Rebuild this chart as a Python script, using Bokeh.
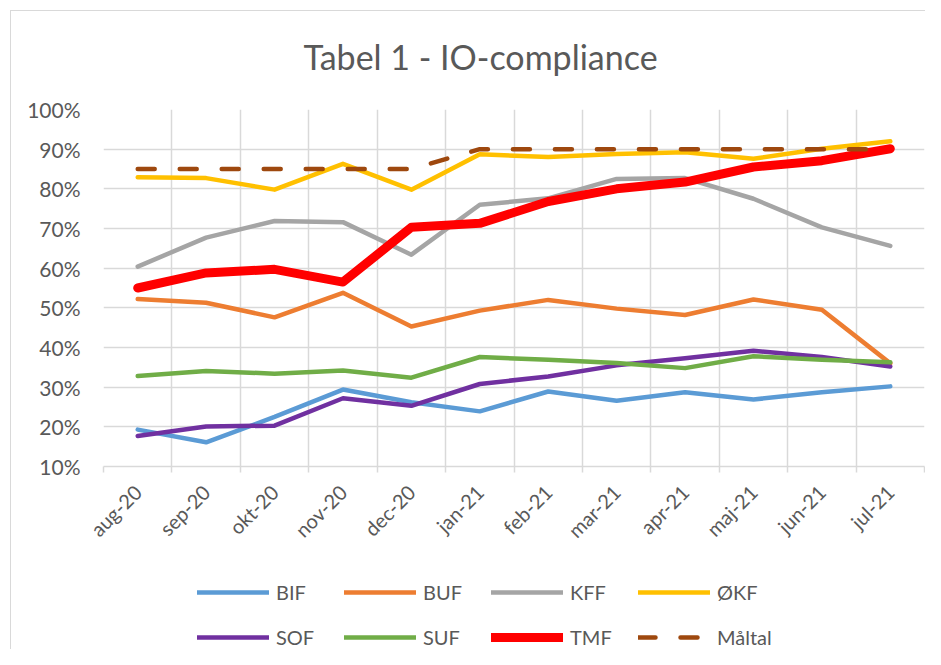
import math
from bokeh.plotting import figure
from bokeh.layouts import column
from bokeh.models import (FixedTicker, Legend, LegendItem, Range1d,
                          PrintfTickFormatter)
from bokeh.embed import file_html
from bokeh.resources import INLINE

months = ["aug-20", "sep-20", "okt-20", "nov-20", "dec-20", "jan-21",
          "feb-21", "mar-21", "apr-21", "maj-21", "jun-21", "jul-21"]
bif = [19.3, 16.1, 22.5, 29.4, 26.2, 23.9, 28.9, 26.6, 28.7, 26.9, 28.7, 30.2]
buf = [52.2, 51.3, 47.6, 53.8, 45.3, 49.3, 52.0, 49.8, 48.2, 52.1, 49.5, 36.0]
kff = [60.4, 67.7, 71.9, 71.6, 63.4, 76.0, 77.6, 82.5, 82.7, 77.5, 70.3, 65.6]
okf = [82.9, 82.7, 79.8, 86.3, 79.8, 88.7, 88.0, 88.8, 89.2, 87.6, 90.1, 92.0]
sof = [17.7, 20.1, 20.3, 27.2, 25.3, 30.8, 32.7, 35.5, 37.3, 39.2, 37.6, 35.2]
suf = [32.8, 34.1, 33.4, 34.2, 32.4, 37.6, 36.9, 36.1, 34.8, 37.8, 36.9, 36.3]
tmf = [55.0, 58.8, 59.7, 56.5, 70.3, 71.3, 76.8, 80.0, 81.7, 85.5, 87.1, 90.1]
maaltal = [85, 85, 85, 85, 85, 90, 90, 90, 90, 90, 90, 90]
y_ticks = [10, 20, 30, 40, 50, 60, 70, 80, 90, 100]

x = list(range(len(months)))
FONT = "Lato"
TXT = "#595959"
GRID = "#D9D9D9"

p = figure(width=925, height=560, output_backend="svg", toolbar_location=None,
           x_range=Range1d(-0.5, len(months) - 0.5), y_range=Range1d(10, 100),
           min_border_left=103, min_border_right=1, min_border_top=109,
           min_border_bottom=94)

p.title.text = "Tabel 1 - IO-compliance"
p.title.align = "left"
p.title.offset = 200
p.title.text_font = FONT
p.title.text_font_size = "34px"
p.title.text_font_style = "normal"
p.title.text_color = TXT
p.title.standoff = 66

p.outline_line_color = None
p.background_fill_color = "white"
p.border_fill_color = None

# y axis
p.yaxis.ticker = FixedTicker(ticks=y_ticks)
p.yaxis.formatter = PrintfTickFormatter(format="%d%%")
p.yaxis.axis_line_color = None
p.yaxis.major_tick_line_color = None
p.yaxis.major_tick_out = 0
p.yaxis.minor_tick_line_color = None
p.yaxis.major_label_text_font = FONT
p.yaxis.major_label_text_font_size = "21px"
p.yaxis.major_label_text_color = TXT
p.yaxis.major_label_standoff = 23

# x axis
p.xaxis.ticker = FixedTicker(ticks=x, minor_ticks=[i - 0.5 for i in range(len(months) + 1)])
p.xaxis.major_label_overrides = {i: m for i, m in enumerate(months)}
p.xaxis.axis_line_color = GRID
p.xaxis.axis_line_width = 1.5
p.xaxis.major_tick_line_color = None
p.xaxis.major_tick_out = 0
p.xaxis.minor_tick_line_color = GRID
p.xaxis.minor_tick_line_width = 1.5
p.xaxis.minor_tick_out = 6
p.xaxis.minor_tick_in = 0
p.xaxis.major_label_orientation = math.pi / 4
p.xaxis.major_label_text_font = FONT
p.xaxis.major_label_text_font_size = "20px"
p.xaxis.major_label_text_color = TXT
p.xaxis.major_label_standoff = 16

# grid
p.xgrid.ticker = FixedTicker(ticks=[i - 0.5 for i in range(len(months) + 1)])
p.ygrid.ticker = FixedTicker(ticks=y_ticks)
for g in (p.xgrid, p.ygrid):
    g.grid_line_color = GRID
    g.grid_line_width = 1.5

series = [
    ("BIF", bif, "#5B9BD5", 4.5, None),
    ("BUF", buf, "#ED7D31", 4.5, None),
    ("KFF", kff, "#A5A5A5", 4.5, None),
    ("ØKF", okf, "#FFC000", 4.5, None),
    ("SOF", sof, "#7030A0", 4.5, None),
    ("SUF", suf, "#70AD47", 4.5, None),
    ("TMF", tmf, "#FF0000", 9, None),
    ("Måltal", maaltal, "#9E480E", 4.5, "17 25"),
]
for name, vals, col, w, dash in series:
    kw = dict(line_color=col, line_width=w, line_cap="round", line_join="round")
    if dash:
        kw["line_dash"] = dash
    p.line(x, vals, **kw)

# legend strip below the chart (its series lie outside its visible range;
# only the legend entries are seen)
pl = figure(width=925, height=89, output_backend="svg", toolbar_location=None,
            x_range=p.x_range, y_range=Range1d(1000, 1100),
            x_axis_location=None, y_axis_location=None, min_border=0)
pl.grid.visible = False
pl.outline_line_color = None
pl.background_fill_color = None
pl.border_fill_color = None
items = []
for name, vals, col, w, dash in series:
    kw = dict(line_color=col, line_width=w, line_cap="round", line_join="round")
    if dash:
        kw["line_dash"] = dash
    r = pl.line(x, vals, **kw)
    items.append(LegendItem(label=name, renderers=[r]))

legend = Legend(items=items, orientation="horizontal", ncols=4,
                location=(94, -2), padding=0, margin=0,
                glyph_width=72, glyph_height=28, label_height=28,
                label_width=51, label_standoff=7, spacing=17,
                label_text_font=FONT, label_text_font_size="20px",
                label_text_color=TXT, border_line_color=None,
                background_fill_alpha=0)
pl.add_layout(legend, "center")

page = column(p, pl, spacing=0)
page.styles = {
    "background-image": "linear-gradient(#D9D9D9, #D9D9D9), linear-gradient(#D9D9D9, #D9D9D9)",
    "background-size": "1px 100%, 100% 1px",
    "background-position": "10px 10px, 10px 10px",
    "background-repeat": "no-repeat",
}

open("out.html", "w").write(file_html(page, INLINE))
